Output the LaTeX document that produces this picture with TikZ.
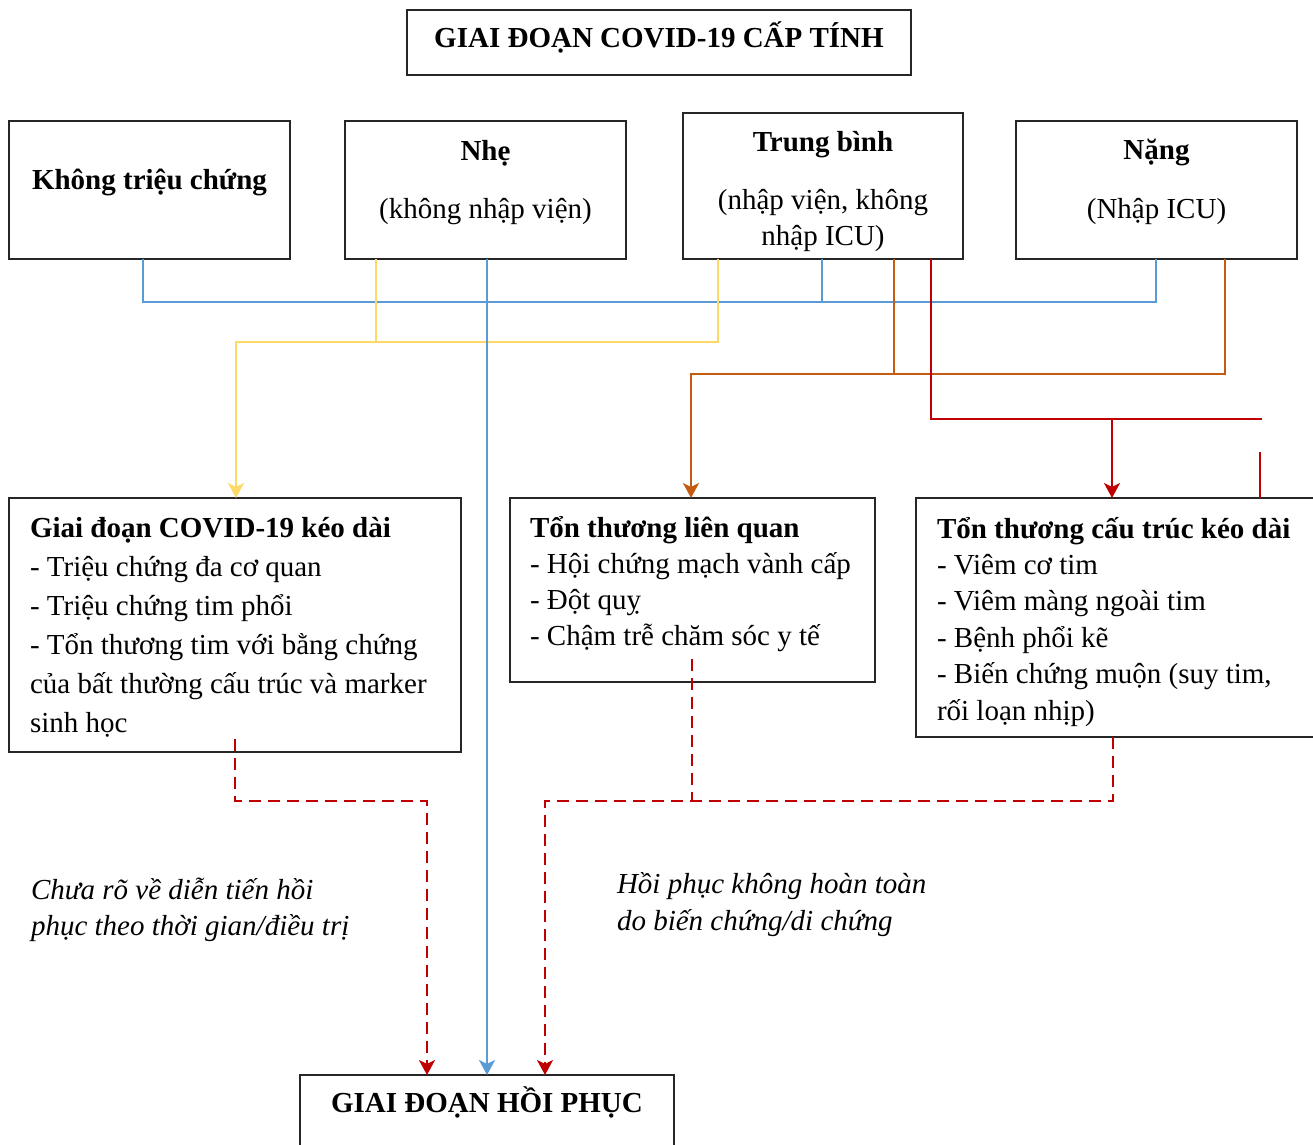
\documentclass[tikz,border=0pt]{standalone}
\usepackage{fontspec}
\setmainfont{Liberation Serif}
\usetikzlibrary{arrows.meta}
\definecolor{cblue}{HTML}{5B9BD5}
\definecolor{cyel}{HTML}{FFD966}
\definecolor{corg}{HTML}{C55A11}
\definecolor{cred}{HTML}{C00000}
\begin{document}
\begin{tikzpicture}[x=1pt,y=-1pt,
  box/.style={draw=black!85, line width=1.3pt, inner sep=0pt, outer sep=0pt, rectangle},
  txt/.style={inner sep=0pt, outer sep=0pt, font=\fontsize{29}{39}\selectfont},
  link/.style={line width=2.5pt},
  tip/.style={-{Stealth[length=15pt,width=16pt,inset=4pt]}},
  dashlink/.style={line width=2.6pt, draw=cred, dash pattern=on 12pt off 7pt}]
\useasboundingbox (0,0) rectangle (1313,1144);

% boxes
\node[box, minimum width=504pt, minimum height=65pt]  (b0) at (659,42.5) {};
\node[box, minimum width=281pt, minimum height=138pt] (b1) at (149.5,190) {};
\node[box, minimum width=281pt, minimum height=138pt] (b2) at (485.5,190) {};
\node[box, minimum width=280pt, minimum height=146pt] (b3) at (823,186) {};
\node[box, minimum width=281pt, minimum height=138pt] (b4) at (1156.5,190) {};
\node[box, minimum width=452pt, minimum height=254pt] (b5) at (235,625) {};
\node[box, minimum width=365pt, minimum height=184pt] (b6) at (692.5,590) {};
\node[box, minimum width=414pt, minimum height=239pt] (b7) at (1123,617.5) {};
\node[box, minimum width=374pt, minimum height=85pt]  (hb) at (487,1117.5) {};

% box texts
\node[txt, anchor=base] (t0) at (659,47) {\textbf{GIAI ĐOẠN COVID-19 CẤP TÍNH}};
\node[txt, anchor=base] (t1) at (149.5,189) {\textbf{Không triệu chứng}};
\node[txt, anchor=base] (t2a) at (485.5,160) {\textbf{Nhẹ}};
\node[txt, anchor=base] (t2b) at (485.5,218) {(không nhập viện)};
\node[txt, anchor=base] (t3a) at (823,151) {\textbf{Trung bình}};
\node[txt, anchor=base] (t3b) at (823,209) {(nhập viện, không};
\node[txt, anchor=base] (t3c) at (823,245) {nhập ICU)};
\node[txt, anchor=base] (t4a) at (1156.5,159) {\textbf{Nặng}};
\node[txt, anchor=base] (t4b) at (1156.5,218) {(Nhập ICU)};

\node[txt, anchor=base west] (t5) at (30,537) {\begin{tabular}[t]{@{}l@{}}
\textbf{Giai đoạn COVID-19 kéo dài}\\
- Triệu chứng đa cơ quan\\
- Triệu chứng tim phổi\\
- Tổn thương tim với bằng chứng\\
của bất thường cấu trúc và marker\\
sinh học\end{tabular}};

\node[txt, font=\fontsize{29}{36}\selectfont, anchor=base west] (t6) at (530,537) {\begin{tabular}[t]{@{}l@{}}
\textbf{Tổn thương liên quan}\\
- Hội chứng mạch vành cấp\\
- Đột quỵ\\
- Chậm trễ chăm sóc y tế\end{tabular}};

\node[txt, font=\fontsize{29}{36.4}\selectfont, anchor=base west] (t7) at (937,538) {\begin{tabular}[t]{@{}l@{}}
\textbf{Tổn thương cấu trúc kéo dài}\\
- Viêm cơ tim\\
- Viêm màng ngoài tim\\
- Bệnh phổi kẽ\\
- Biến chứng muộn (suy tim,\\
rối loạn nhịp)\end{tabular}};

\node[txt, anchor=base] (th) at (487,1112) {\textbf{GIAI ĐOẠN HỒI PHỤC}};

% notes on the dashed paths
\node[txt, font=\fontsize{29}{36}\selectfont\itshape, anchor=base west] (n1) at (31,899) {\begin{tabular}[t]{@{}l@{}}
Chưa rõ về diễn tiến hồi\\
phục theo thời gian/điều trị\end{tabular}};
\node[txt, font=\fontsize{29}{37}\selectfont\itshape, anchor=base west] (n2) at (617,893) {\begin{tabular}[t]{@{}l@{}}
Hồi phục không hoàn toàn\\
do biến chứng/di chứng\end{tabular}};

% junction points
\coordinate (jb1) at (143,302);
\coordinate (jb3) at (822,302);
\coordinate (jb4) at (1156,302);
\coordinate (jy2) at (376,342);
\coordinate (jy3) at (718,342);
\coordinate (jy5) at (236,342);
\coordinate (jo3) at (894,374);
\coordinate (jo4) at (1225,374);
\coordinate (jo6) at (691,374);
\coordinate (jr3) at (931,419);
\coordinate (jr7) at (1112,419);
\coordinate (jrE) at (1262,419);
\coordinate (rs)  at (1260,452);
\coordinate (d5s) at (235,739);
\coordinate (d5)  at (235,801);
\coordinate (dL)  at (427,801);
\coordinate (d6s) at (692,659);
\coordinate (d6)  at (692,801);
\coordinate (d7)  at (1113,801);
\coordinate (dR)  at (545,801);

% blue bus
\draw[link, cblue] (b1.south -| jb1) -- (jb1) -- (jb4) -- (b4.south -| jb4);
\draw[link, cblue] (b3.south -| jb3) -- (jb3);

% yellow
\draw[link, cyel] (b2.south -| jy2) -- (jy2);
\draw[link, cyel, tip] (b3.south -| jy3) -- (jy3) -- (jy5) -- (b5.north -| jy5);

% orange
\draw[link, corg] (b4.south -| jo4) -- (jo4) -- (jo3);
\draw[link, corg, tip] (b3.south -| jo3) -- (jo3) -- (jo6) -- (b6.north -| jo6);

% red
\draw[link, cred] (b3.south -| jr3) -- (jr3) -- (jrE);
\draw[link, cred, tip] (jr7) -- (b7.north -| jr7);
\draw[link, cred] (rs) -- (b7.north -| rs);

% blue straight line to recovery
\draw[link, cblue, tip] (b2.south -| hb.north) -- (hb.north);

% dashed paths to recovery
\draw[dashlink, tip] (d5s) -- (d5) -- (dL) -- (hb.north -| dL);
\draw[dashlink] (d6s) -- (d6);
\draw[dashlink, tip] (b7.south -| d7) -- (d7) -- (dR) -- (hb.north -| dR);
\end{tikzpicture}
\end{document}
